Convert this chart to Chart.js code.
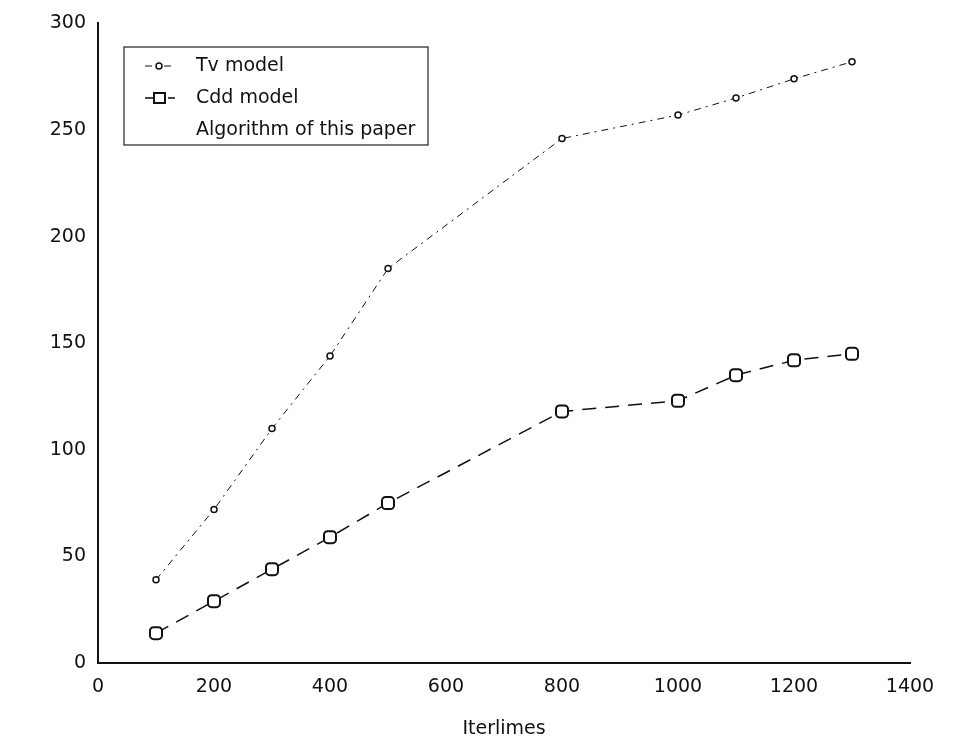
<!DOCTYPE html>
<html>
<head>
<meta charset="utf-8">
<script src="https://cdn.jsdelivr.net/npm/chart.js@4.4.1/dist/chart.umd.min.js"></script>
<style>
  body { margin: 0; background: #fff; }
  #wrap { width: 953px; height: 740px; }
</style>
</head>
<body>
<div id="wrap"><canvas id="mycanvas" width="953" height="740"></canvas></div>
<script>
// values
var iterations = [100, 200, 300, 400, 500, 800, 1000, 1100, 1200, 1300];
var tvModel = [39, 72, 110, 144, 185, 246, 257, 265, 274, 282];
var cddModel = [14, 29, 44, 59, 75, 118, 123, 135, 142, 145];
var paperAlgo = [];
var xTicks = [0, 200, 400, 600, 800, 1000, 1200, 1400];
var yTicks = [0, 50, 100, 150, 200, 250, 300];
var labels = ["Tv model", "Cdd model", "Algorithm of this paper"];

function toPoints(xs, ys) {
    var out = [];
    for (var i = 0; i < ys.length; i++) out.push({x: xs[i], y: ys[i]});
    return out;
}

// legend box drawn inside the plot, top left
var boxLegend = {
    id: 'boxLegend',
    afterDraw: function(chart) {
        var c = chart.ctx;
        var x0 = 124, y0 = 47, w = 304, h = 98;
        c.save();
        c.strokeStyle = '#222';
        c.lineWidth = 1.2;
        c.fillStyle = '#fff';
        c.fillRect(x0, y0, w, h);
        c.strokeRect(x0, y0, w, h);
        c.font = '19px "DejaVu Sans", sans-serif';
        c.textBaseline = 'middle';
        c.fillStyle = '#111';
        var rows = [66, 98, 130];
        for (var i = 0; i < labels.length; i++) {
            var ds = chart.data.datasets[i];
            var yy = rows[i];
            if (ds.data.length) {
                c.beginPath();
                c.strokeStyle = '#111';
                c.lineWidth = ds.borderWidth;
                c.setLineDash(ds.borderDash || []);
                c.moveTo(145, yy); c.lineTo(175, yy);
                c.stroke();
                c.setLineDash([]);
                c.lineWidth = ds.pointBorderWidth;
                c.beginPath();
                if (ds.pointStyle === 'rectRounded') {
                    c.rect(154, yy - 5, 11, 10);
                } else {
                    c.arc(159, yy, ds.pointRadius, 0, Math.PI * 2);
                }
                c.fillStyle = '#fff';
                c.fill();
                c.stroke();
                c.fillStyle = '#111';
            }
            c.fillText(labels[i], 196, yy);
        }
        c.restore();
    }
};

var ctx = document.getElementById('mycanvas');

var chartdata = {
    datasets: [
        {
            label: labels[0],
            data: toPoints(iterations, tvModel),
            borderColor: '#111',
            backgroundColor: '#fff',
            borderWidth: 1,
            borderDash: [7, 5, 2, 5],
            pointStyle: 'circle',
            pointRadius: 3,
            pointBorderWidth: 1.5,
            pointBorderColor: '#111',
            pointBackgroundColor: '#fff'
        },
        {
            label: labels[1],
            data: toPoints(iterations, cddModel),
            borderColor: '#111',
            backgroundColor: '#fff',
            borderWidth: 1.5,
            borderDash: [14, 9],
            pointStyle: 'rectRounded',
            pointRadius: 7,
            pointBorderWidth: 2,
            pointBorderColor: '#111',
            pointBackgroundColor: '#fff'
        },
        {
            label: labels[2],
            data: paperAlgo,
            borderColor: '#111',
            borderWidth: 1,
            pointRadius: 0
        }
    ]
};

var tickFont = { family: '"DejaVu Sans", sans-serif', size: 19 };

var lineGraph = new Chart(ctx, {
    type: 'line',
    data: chartdata,
    plugins: [boxLegend],
    options: {
        responsive: false,
        animation: false,
        layout: { padding: { top: 23, right: 43, left: 0, bottom: 0 } },
        plugins: {
            legend: { display: false },
            tooltip: { enabled: false }
        },
        scales: {
            x: {
                type: 'linear',
                min: 0,
                max: 1400,
                afterBuildTicks: function(axis) {
                    axis.ticks = xTicks.map(function(v) { return {value: v}; });
                },
                afterFit: function(axis) { axis.height = 77; },
                grid: { display: false, drawTicks: false },
                border: { display: true, color: '#111', width: 2 },
                ticks: {
                    color: '#111', font: tickFont, padding: 13, maxRotation: 0,
                    callback: function(v) { return String(v); }
                },
                title: {
                    display: true,
                    text: 'Iterlimes',
                    color: '#111',
                    font: { family: tickFont.family, size: 19 },
                    padding: { top: 8, bottom: 0 }
                }
            },
            y: {
                type: 'linear',
                min: 0,
                max: 300,
                afterBuildTicks: function(axis) {
                    axis.ticks = yTicks.map(function(v) { return {value: v}; });
                },
                afterFit: function(axis) { axis.width = 98; },
                grid: { display: false, drawTicks: false },
                border: { display: true, color: '#111', width: 2 },
                ticks: { color: '#111', font: tickFont, padding: 12 }
            }
        }
    }
});
</script>
</body>
</html>
